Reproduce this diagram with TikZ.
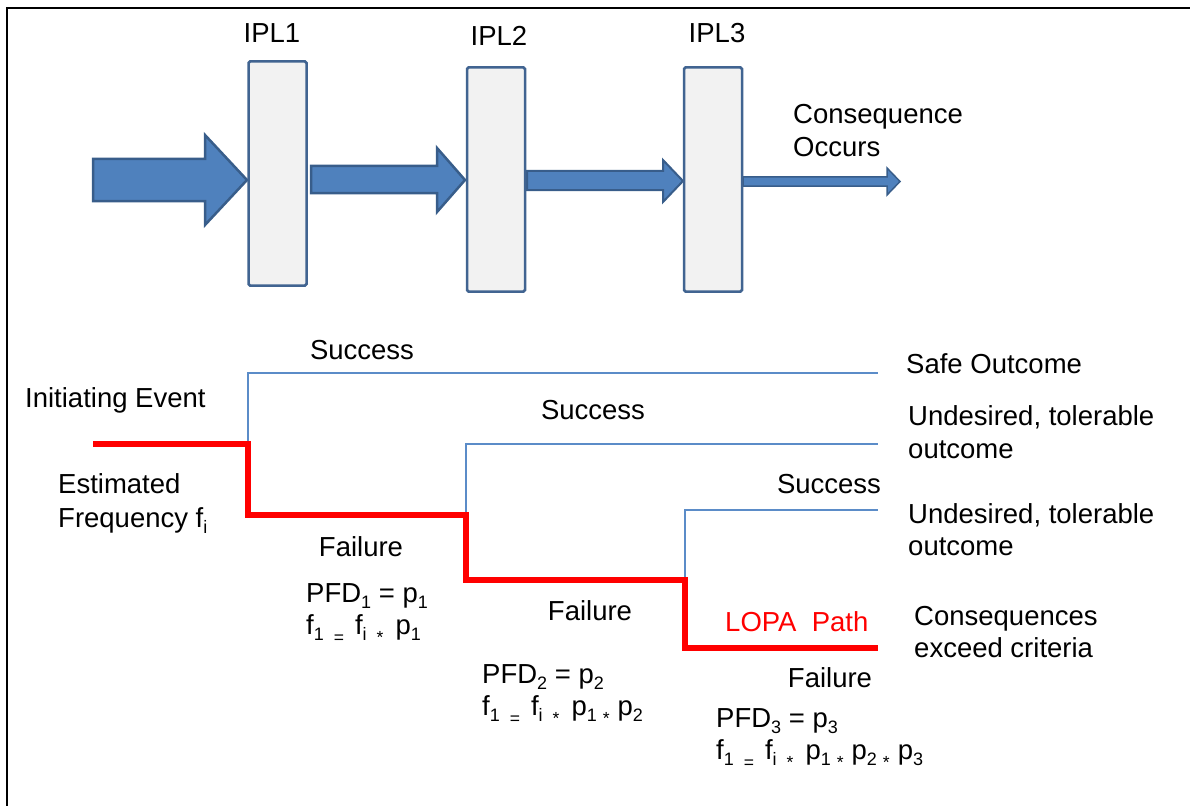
\documentclass[tikz,border=0pt]{standalone}
\usepackage{fontspec}
\setmainfont{Liberation Sans}
\definecolor{arrowfill}{RGB}{79,129,189}
\definecolor{arrowedge}{RGB}{56,93,138}
\definecolor{boxfill}{RGB}{242,242,242}
\definecolor{boxedge}{RGB}{65,100,145}
\definecolor{treeblue}{RGB}{91,140,200}
\definecolor{lopared}{RGB}{255,0,0}
\newcommand\lsub[1]{\raisebox{-6pt}{\fontsize{18pt}{18pt}\selectfont #1}}
\newcommand\lop[1]{\raisebox{-9pt}{\fontsize{17.5pt}{18pt}\selectfont #1}}
\tikzset{
  lbl/.style={inner sep=0pt, anchor=base west, font=\fontsize{27.5pt}{33pt}\selectfont},
  clbl/.style={inner sep=0pt, anchor=base, font=\fontsize{27.5pt}{33pt}\selectfont},
  iplbox/.style={draw=boxedge, fill=boxfill, line width=2.5pt, rounded corners=1.5pt, minimum width=58pt, minimum height=224pt, inner sep=0pt},
  blockarrow/.style={draw=arrowedge, fill=arrowfill, line width=2.5pt, line join=miter},
  okline/.style={draw=treeblue, line width=1.5pt},
  failline/.style={draw=lopared, line width=6pt, line join=miter}
}
\begin{document}
\begin{tikzpicture}[x=1pt,y=-1pt]
\useasboundingbox (0,0) rectangle (1190,805);
% frame (top and left edges)
\draw[line width=2.5pt] (7,806) -- (7,8) -- (1191,8);

% block arrows
\filldraw[blockarrow] (93,159) -- (205,159) -- (205,135) -- (247,180) -- (205,225) -- (205,201) -- (93,201) -- cycle;
\filldraw[blockarrow] (311,166) -- (437,166) -- (437,148) -- (465,180) -- (437,212) -- (437,193) -- (311,193) -- cycle;
\filldraw[blockarrow, line width=2pt] (527,171) -- (663,171) -- (663,160) -- (683,181) -- (663,202) -- (663,190) -- (527,190) -- cycle;
\filldraw[blockarrow, line width=1.5pt] (743,177) -- (887,177) -- (887,168) -- (900,181.5) -- (887,195) -- (887,186) -- (743,186) -- cycle;

% IPL boxes
\node[iplbox] (ipl1) at (277.5,173.5) {};
\node[iplbox] (ipl2) at (496,179.5) {};
\node[iplbox] (ipl3) at (713,179.5) {};
\node[clbl] (t1) at (272,43) {IPL1};
\node[clbl] (t2) at (499,46) {IPL2};
\node[clbl] (t3) at (717,43) {IPL3};
\node[lbl] (cons1) at (793,124) {Consequence};
\node[lbl] (cons2) at (793,157) {Occurs};

% event tree: success branches
\coordinate (s1a) at (248,444);
\coordinate (s1b) at (248,373);
\coordinate (s1c) at (878,373);
\coordinate (s2a) at (466,515);
\coordinate (s2b) at (466,444);
\coordinate (s2c) at (878,444);
\coordinate (s3a) at (685,580);
\coordinate (s3b) at (685,510);
\coordinate (s3c) at (878,510);
\draw[okline] (s1a) -- (s1b) -- (s1c);
\draw[okline] (s2a) -- (s2b) -- (s2c);
\draw[okline] (s3a) -- (s3b) -- (s3c);

% LOPA path
\coordinate (r0) at (93,444);
\coordinate (r5) at (878,648);
\draw[failline] (r0) -- (s1a) |- (s2a) |- (s3a) |- (r5);

% labels
\node[clbl] (succ1) at (362,359) {Success};
\node[clbl] (succ2) at (593,419) {Success};
\node[clbl] (succ3) at (829,493) {Success};
\node[lbl] (init) at (25,407) {Initiating Event};
\node[lbl] (est1) at (58,493) {Estimated};
\node[lbl] (est2) at (58,527) {Frequency f\lsub{i}};
\node[clbl] (fail1) at (361,556) {Failure};
\node[clbl] (fail2) at (590,620) {Failure};
\node[clbl] (fail3) at (830,687) {Failure};
\node[lbl, text=lopared] (lopa) at (725,631) {LOPA\ \ Path};

\node[lbl] (pfd1) at (306,602) {PFD\lsub{1} = p\lsub{1}};
\node[lbl] (f1) at (306,634) {f\lsub{1}\hspace{10pt}\lop{=}\hspace{11pt}f\lsub{i}\hspace{10pt}\lop{*}\hspace{12pt}p\lsub{1}};
\node[lbl] (pfd2) at (482,683) {PFD\lsub{2} = p\lsub{2}};
\node[lbl] (f2) at (482,715) {f\lsub{1}\hspace{10pt}\lop{=}\hspace{11pt}f\lsub{i}\hspace{10pt}\lop{*}\hspace{12pt}p\lsub{1}\hspace{6pt}\lop{*}\hspace{8pt}p\lsub{2}};
\node[lbl] (pfd3) at (716,727) {PFD\lsub{3} = p\lsub{3}};
\node[lbl] (f3) at (716,759) {f\lsub{1}\hspace{10pt}\lop{=}\hspace{11pt}f\lsub{i}\hspace{10pt}\lop{*}\hspace{12pt}p\lsub{1}\hspace{6pt}\lop{*}\hspace{8pt}p\lsub{2}\hspace{6pt}\lop{*}\hspace{8pt}p\lsub{3}};

% outcomes
\node[lbl] (out1) at (906,373) {Safe Outcome};
\node[lbl] (out2a) at (908,425) {Undesired, tolerable};
\node[lbl] (out2b) at (908,458) {outcome};
\node[lbl] (out3a) at (908,523) {Undesired, tolerable};
\node[lbl] (out3b) at (908,555) {outcome};
\node[lbl] (out4a) at (914,625) {Consequences};
\node[lbl] (out4b) at (914,657) {exceed criteria};
\end{tikzpicture}
\end{document}
